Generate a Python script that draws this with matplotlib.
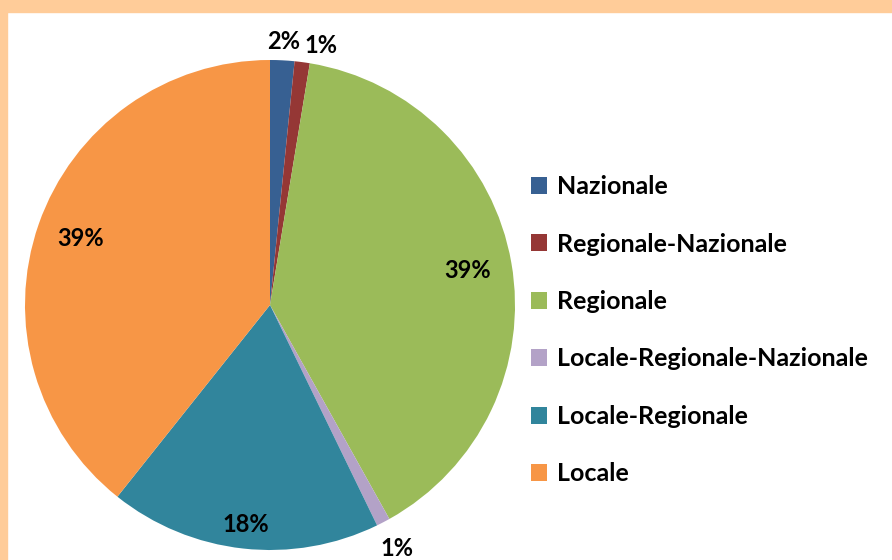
import numpy as np
import matplotlib
matplotlib.use("Agg")
import matplotlib.pyplot as plt
from matplotlib.patches import Rectangle, Patch

# dati
categorie = ['Nazionale', 'Regionale-Nazionale', 'Regionale',
             'Locale-Regionale-Nazionale', 'Locale-Regionale', 'Locale']
valori = [1.6, 1.0, 39.3, 0.9, 17.9, 39.3]
colori = ['#376092', '#953735', '#9BBB59', '#B3A2C7', '#31859C', '#F79646']
# distanza etichetta dal centro (in raggi) e allineamento
dist_etichette = [1.075, 1.07, 0.82, 1.12, 0.90, 0.82]
allin_etichette = ['center', 'left', 'center', 'center', 'center', 'center']

plt.rcParams['font.family'] = ['Lato', 'DejaVu Sans']

W, H = 892, 560
fig = plt.figure(figsize=(W / 100, H / 100), dpi=100)
fig.patch.set_facecolor('white')

# cornice color pesca (tagliata)
fig.add_artist(Rectangle((0, 1 - 12 / H), 1, 12 / H, transform=fig.transFigure,
                         color='#FFCC99', zorder=0))
fig.add_artist(Rectangle((0, 0), 7 / W, 1, transform=fig.transFigure,
                         color='#FFCC99', zorder=0))

cx, cy, r = 270, 305, 245
ax = fig.add_axes([(cx - r) / W, (H - cy - r) / H, 2 * r / W, 2 * r / H])
wedges, _ = ax.pie(valori, colors=colori, startangle=90, counterclock=False,
                   radius=1, wedgeprops=dict(linewidth=0))
ax.set_xlim(-1, 1)
ax.set_ylim(-1, 1)
ax.set_aspect('equal')
ax.axis('off')

tot = sum(valori)
for w, v, d, ha in zip(wedges, valori, dist_etichette, allin_etichette):
    ang = np.deg2rad((w.theta1 + w.theta2) / 2)
    ax.text(d * np.cos(ang), d * np.sin(ang), f'{v / tot * 100:.0f}%',
            ha=ha, va='center', fontsize=17, fontweight='bold',
            color='black', clip_on=False)

handles = [Patch(facecolor=c, edgecolor='none') for c in colori]
leg = fig.legend(handles, categorie, loc='upper left',
                 bbox_to_anchor=(531 / W, 1 - 175 / H), frameon=False,
                 prop=dict(weight='bold', size=18),
                 handlelength=0.65, handleheight=0.65, handletextpad=0.4,
                 labelspacing=1.38, borderaxespad=0, borderpad=0)

fig.savefig('out.png', dpi=100)
